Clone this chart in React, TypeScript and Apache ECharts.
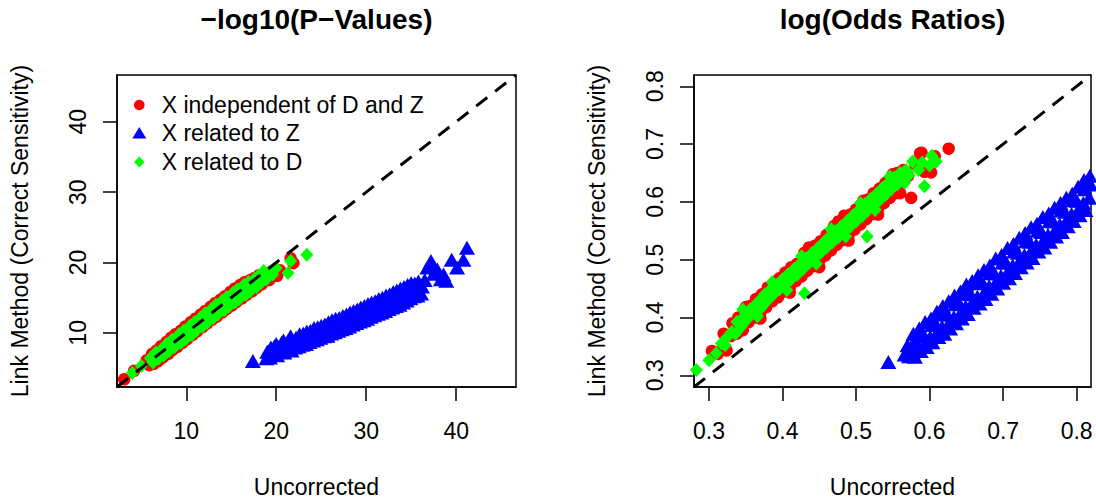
import React, { useEffect, useRef } from "react";
import * as echarts from "echarts";

// ---------- data ----------
const legendLabels = ["X independent of D and Z", "X related to Z", "X related to D"];
const panelTitles = ["\u2212log10(P\u2212Values)", "log(Odds Ratios)"];
const xAxisTitle = "Uncorrected";
const yAxisTitle = "Link Method (Correct Sensitivity)";

const leftTicks = [10, 20, 30, 40];
const rightTicks = [0.3, 0.4, 0.5, 0.6, 0.7, 0.8];
const leftRange = [2.3, 46.65];
const rightRange = [0.2797, 0.8195];

// -log10(P) panel
const redLeft = [
  [3.1, 3.4], [4.2, 4.6], [5.6, 6.1], [5.9, 5.4], [6.2, 7.0], [6.4, 5.6], [6.7, 7.5], [6.9, 6.0], [7.2, 8.1], [7.4, 6.5],
  [7.6, 7.8], [7.8, 8.7], [8.0, 7.0], [8.3, 9.3], [8.5, 7.6], [8.8, 9.8], [9.0, 8.0], [9.2, 9.1], [9.4, 10.3], [9.6, 8.6],
  [9.9, 10.9], [10.1, 9.1], [10.3, 10.2], [10.5, 11.5], [10.7, 9.7], [11.0, 12.0], [11.2, 10.2], [11.4, 11.3], [11.6, 12.6], [11.8, 10.8],
  [12.1, 13.1], [12.3, 11.3], [12.5, 12.4], [12.7, 13.7], [12.9, 11.9], [13.2, 14.2], [13.4, 12.3], [13.6, 13.5], [13.8, 14.7], [14.0, 12.9],
  [14.3, 15.2], [14.5, 13.4], [14.7, 14.5], [14.9, 15.8], [15.1, 13.9], [15.4, 16.3], [15.6, 14.4], [15.8, 15.5], [16.0, 16.8], [16.2, 14.9],
  [16.5, 17.2], [16.7, 15.4], [16.9, 16.2], [17.1, 17.5], [17.3, 15.9], [17.6, 17.8], [17.8, 16.4], [18.1, 18.2], [18.4, 16.9], [18.8, 18.4],
  [19.2, 17.5], [19.6, 18.0], [20.1, 18.1], [20.4, 18.9], [21.6, 20.6], [21.9, 19.9],
];
const blueLeft = [
  [17.4, 6.0], [18.9, 6.4], [19.0, 7.3], [19.3, 6.5], [19.4, 7.9], [19.7, 7.0], [19.8, 8.1], [20.1, 6.8], [20.2, 7.9], [20.0, 8.4],
  [20.5, 7.3], [20.6, 8.6], [20.9, 7.2], [21.0, 8.4], [20.8, 8.9], [21.3, 7.6], [21.4, 9.0], [21.7, 7.5], [21.6, 9.5], [21.8, 8.5],
  [22.1, 7.9], [22.2, 9.3], [22.5, 8.1], [22.6, 9.8], [22.4, 9.0], [22.9, 8.3], [23.0, 9.9], [23.3, 8.4], [23.4, 10.2], [23.2, 9.4],
  [23.7, 8.7], [23.8, 10.3], [24.1, 8.9], [24.2, 10.7], [24.0, 9.8], [24.5, 9.1], [24.6, 10.8], [24.9, 9.3], [25.0, 11.0], [24.8, 10.1],
  [25.3, 9.5], [25.4, 11.2], [25.7, 9.6], [25.8, 11.5], [25.6, 10.5], [26.1, 9.9], [26.2, 11.8], [26.5, 10.1], [26.6, 12.0], [26.4, 11.0],
  [26.9, 10.3], [27.0, 12.1], [27.3, 10.5], [27.4, 12.4], [27.2, 11.4], [27.7, 10.7], [27.8, 12.6], [28.1, 10.9], [28.2, 12.9], [28.0, 12.0],
  [28.5, 11.2], [28.6, 13.1], [28.9, 11.4], [29.0, 13.3], [28.8, 12.3], [29.3, 11.6], [29.4, 13.6], [29.7, 11.8], [29.8, 13.8], [29.6, 12.9],
  [30.1, 12.0], [30.2, 14.1], [30.5, 12.3], [30.6, 14.3], [30.4, 13.3], [30.9, 12.5], [31.0, 14.5], [31.3, 12.7], [31.4, 14.8], [31.2, 13.8],
  [31.7, 12.9], [31.8, 15.0], [32.1, 13.1], [32.2, 15.3], [32.0, 14.2], [32.5, 13.4], [32.6, 15.5], [32.9, 13.6], [33.0, 15.8], [32.8, 14.7],
  [33.3, 13.8], [33.4, 16.0], [33.7, 14.0], [33.8, 16.3], [33.6, 15.1], [34.1, 14.3], [34.2, 16.5], [34.5, 14.6], [34.6, 16.8], [34.4, 15.6],
  [34.9, 14.9], [35.0, 17.1], [35.3, 15.2], [35.4, 17.0], [35.2, 16.1], [35.7, 15.3], [35.8, 17.3], [36.1, 15.6], [36.2, 16.6], [36.5, 17.5],
  [36.8, 19.3], [37.2, 20.2], [37.5, 18.4], [37.3, 19.5], [37.9, 19.0], [38.3, 17.6], [38.9, 17.4], [38.6, 18.3], [39.5, 20.4], [40.1, 19.3],
  [40.8, 20.4], [41.2, 22.1],
];
const greenLeft = [
  [4.0, 4.3], [5.0, 5.3], [6.0, 6.4], [6.3, 5.8], [6.6, 7.2], [6.9, 6.3], [7.2, 7.6], [7.5, 6.8], [7.8, 8.4], [8.1, 7.4],
  [8.4, 9.0], [8.7, 8.0], [8.9, 8.7], [9.2, 9.8], [9.4, 8.6], [9.7, 10.3], [9.9, 9.1], [10.1, 10.0], [10.4, 11.0], [10.6, 9.7],
  [10.9, 11.5], [11.1, 10.3], [11.3, 11.2], [11.6, 12.2], [11.8, 10.9], [12.1, 12.8], [12.3, 11.4], [12.5, 12.3], [12.8, 13.4], [13.0, 12.1],
  [13.3, 14.0], [13.5, 12.6], [13.7, 13.5], [14.0, 14.6], [14.2, 13.2], [14.5, 15.1], [14.7, 13.7], [14.9, 14.6], [15.2, 15.7], [15.4, 14.3],
  [15.7, 16.2], [15.9, 14.8], [16.1, 15.7], [16.4, 16.8], [16.6, 15.4], [16.9, 17.2], [17.1, 15.9], [17.3, 16.7], [17.6, 17.7], [17.8, 16.5],
  [18.1, 18.2], [18.3, 17.1], [18.6, 18.8], [18.9, 17.6], [19.2, 18.6], [19.6, 18.3], [20.0, 19.2], [21.3, 18.5], [21.6, 20.2], [23.4, 21.1],
];

// log(OR) panel
const redRight = [
  [0.304, 0.342], [0.312, 0.337], [0.318, 0.345], [0.320, 0.372], [0.324, 0.343], [0.330, 0.368], [0.332, 0.390], [0.338, 0.372], [0.340, 0.400], [0.346, 0.378],
  [0.348, 0.410], [0.350, 0.418], [0.354, 0.392], [0.356, 0.420], [0.362, 0.400], [0.364, 0.432], [0.370, 0.409], [0.370, 0.398], [0.372, 0.440], [0.378, 0.418],
  [0.380, 0.452], [0.386, 0.428], [0.388, 0.458], [0.390, 0.462], [0.394, 0.435], [0.396, 0.468], [0.402, 0.445], [0.404, 0.478], [0.410, 0.452], [0.410, 0.443],
  [0.412, 0.487], [0.418, 0.463], [0.420, 0.493], [0.426, 0.471], [0.428, 0.505], [0.430, 0.512], [0.434, 0.481], [0.436, 0.521], [0.442, 0.489], [0.444, 0.524],
  [0.450, 0.498], [0.450, 0.487], [0.452, 0.532], [0.458, 0.507], [0.460, 0.543], [0.466, 0.516], [0.468, 0.550], [0.470, 0.558], [0.474, 0.526], [0.476, 0.566],
  [0.482, 0.534], [0.484, 0.576], [0.490, 0.543], [0.490, 0.533], [0.492, 0.578], [0.498, 0.552], [0.500, 0.587], [0.506, 0.561], [0.508, 0.597], [0.510, 0.602],
  [0.514, 0.570], [0.516, 0.604], [0.522, 0.579], [0.524, 0.615], [0.530, 0.588], [0.530, 0.578], [0.532, 0.623], [0.538, 0.598], [0.540, 0.633], [0.546, 0.607],
  [0.548, 0.640], [0.550, 0.648], [0.554, 0.615], [0.556, 0.650], [0.560, 0.615], [0.562, 0.632], [0.564, 0.655], [0.571, 0.645], [0.575, 0.607], [0.581, 0.664],
  [0.587, 0.684], [0.589, 0.685], [0.593, 0.652], [0.602, 0.651], [0.607, 0.679], [0.626, 0.692],
];
const blueRight = [
  [0.544, 0.323], [0.566, 0.336], [0.570, 0.352], [0.572, 0.333], [0.571, 0.343],
  [0.578, 0.372], [0.580, 0.332], [0.579, 0.359], [0.577, 0.340], [0.586, 0.381], [0.588, 0.342], [0.587, 0.368], [0.585, 0.350],
  [0.594, 0.392], [0.596, 0.349], [0.592, 0.370], [0.595, 0.357], [0.602, 0.398], [0.604, 0.357], [0.603, 0.387], [0.601, 0.366],
  [0.610, 0.410], [0.612, 0.366], [0.608, 0.390], [0.611, 0.376], [0.618, 0.420], [0.620, 0.372], [0.619, 0.405], [0.617, 0.384],
  [0.626, 0.428], [0.628, 0.381], [0.624, 0.405], [0.627, 0.392], [0.634, 0.438], [0.636, 0.390], [0.635, 0.423], [0.633, 0.401],
  [0.642, 0.445], [0.644, 0.398], [0.640, 0.425], [0.643, 0.410], [0.650, 0.457], [0.652, 0.406], [0.651, 0.441], [0.649, 0.419],
  [0.658, 0.463], [0.660, 0.417], [0.656, 0.440], [0.659, 0.428], [0.666, 0.473], [0.668, 0.424], [0.667, 0.459], [0.665, 0.436],
  [0.674, 0.482], [0.676, 0.432], [0.672, 0.460], [0.675, 0.445], [0.682, 0.490], [0.684, 0.441], [0.683, 0.477], [0.681, 0.454],
  [0.690, 0.502], [0.692, 0.450], [0.688, 0.476], [0.691, 0.463], [0.698, 0.508], [0.700, 0.460], [0.699, 0.495], [0.697, 0.472],
  [0.706, 0.520], [0.708, 0.468], [0.704, 0.495], [0.707, 0.481], [0.714, 0.527], [0.716, 0.477], [0.715, 0.514], [0.713, 0.490],
  [0.722, 0.538], [0.724, 0.487], [0.720, 0.512], [0.723, 0.499], [0.730, 0.546], [0.732, 0.495], [0.731, 0.532], [0.729, 0.508],
  [0.738, 0.556], [0.740, 0.503], [0.736, 0.531], [0.739, 0.517], [0.746, 0.562], [0.748, 0.514], [0.747, 0.550], [0.745, 0.526],
  [0.754, 0.574], [0.756, 0.521], [0.752, 0.548], [0.755, 0.534], [0.762, 0.580], [0.764, 0.531], [0.763, 0.567], [0.761, 0.543],
  [0.770, 0.590], [0.772, 0.540], [0.768, 0.566], [0.771, 0.552], [0.778, 0.598], [0.780, 0.548], [0.779, 0.585], [0.777, 0.561],
  [0.786, 0.607], [0.788, 0.558], [0.784, 0.583], [0.787, 0.570], [0.794, 0.614], [0.796, 0.567], [0.795, 0.603], [0.793, 0.579],
  [0.802, 0.626], [0.804, 0.577], [0.800, 0.602], [0.803, 0.588], [0.810, 0.638], [0.812, 0.586], [0.811, 0.622], [0.809, 0.598],
  [0.818, 0.645], [0.820, 0.596], [0.819, 0.630], [0.817, 0.607],
];
const greenRight = [
  [0.283, 0.309], [0.300, 0.326], [0.310, 0.338], [0.317, 0.355], [0.322, 0.352], [0.325, 0.366], [0.331, 0.375], [0.336, 0.372], [0.338, 0.392], [0.344, 0.384],
  [0.346, 0.414], [0.348, 0.402], [0.352, 0.397], [0.356, 0.414], [0.362, 0.408], [0.364, 0.423], [0.366, 0.402], [0.368, 0.428], [0.372, 0.418], [0.376, 0.440],
  [0.380, 0.430], [0.384, 0.449], [0.386, 0.461], [0.388, 0.440], [0.392, 0.456], [0.396, 0.449], [0.400, 0.466], [0.404, 0.457], [0.406, 0.447], [0.408, 0.475],
  [0.412, 0.466], [0.416, 0.484], [0.420, 0.474], [0.424, 0.493], [0.426, 0.506], [0.428, 0.484], [0.430, 0.442], [0.432, 0.502], [0.436, 0.494], [0.440, 0.511],
  [0.444, 0.503], [0.446, 0.493], [0.448, 0.520], [0.452, 0.512], [0.456, 0.530], [0.460, 0.521], [0.464, 0.540], [0.466, 0.553], [0.468, 0.530], [0.472, 0.549],
  [0.476, 0.539], [0.480, 0.558], [0.484, 0.549], [0.486, 0.540], [0.488, 0.567], [0.492, 0.557], [0.496, 0.577], [0.500, 0.566], [0.504, 0.586], [0.506, 0.598],
  [0.508, 0.575], [0.512, 0.596], [0.515, 0.540], [0.516, 0.585], [0.520, 0.605], [0.524, 0.594], [0.526, 0.586], [0.528, 0.614], [0.532, 0.603], [0.536, 0.624],
  [0.540, 0.612], [0.544, 0.633], [0.546, 0.644], [0.548, 0.622], [0.552, 0.642], [0.556, 0.630], [0.560, 0.650], [0.564, 0.640], [0.566, 0.633], [0.568, 0.655],
  [0.572, 0.646], [0.577, 0.670], [0.585, 0.655], [0.593, 0.627], [0.600, 0.663], [0.609, 0.670], [0.603, 0.680], [0.590, 0.668],
];

// ---------- styling ----------
const FONT = "'Liberation Sans', Arial, Helvetica, sans-serif";
const RED = "#ff0000";
const BLUE = "#0000ff";
const GREEN = "#00ff00";
const FS = 23;

const grids = [
  { left: 117, top: 75, width: 399, height: 312 },
  { left: 694, top: 75, width: 397, height: 312 },
];

function makeX(idx: number, range: number[], ticks: number[]) {
  return {
    gridIndex: idx,
    type: "value",
    min: range[0],
    max: range[1],
    axisLine: { show: true, onZero: false, lineStyle: { color: "#000", width: 1.5 } },
    axisTick: { show: true, length: 14, customValues: ticks, lineStyle: { color: "#000", width: 1.5 } },
    axisLabel: { customValues: ticks, margin: 32, fontSize: FS, color: "#000", fontFamily: FONT },
    splitLine: { show: false },
    name: xAxisTitle,
    nameLocation: "middle",
    nameGap: 88,
    nameTextStyle: { fontSize: FS, color: "#000", fontFamily: FONT },
  };
}
function makeY(idx: number, range: number[], ticks: number[]) {
  return {
    gridIndex: idx,
    type: "value",
    min: range[0],
    max: range[1],
    axisLine: { show: true, onZero: false, lineStyle: { color: "#000", width: 1.5 } },
    axisTick: { show: true, length: 14, customValues: ticks, lineStyle: { color: "#000", width: 1.5 } },
    axisLabel: { customValues: ticks, margin: 28, rotate: 90, fontSize: FS, color: "#000", fontFamily: FONT },
    splitLine: { show: false },
    name: yAxisTitle,
    nameLocation: "middle",
    nameGap: 86,
    nameRotate: 90,
    nameTextStyle: { fontSize: FS, color: "#000", fontFamily: FONT },
  };
}

function scatter(idx: number, name: string, data: number[][], color: string, symbol: string, size: any, z: number) {
  return {
    type: "scatter",
    name,
    xAxisIndex: idx,
    yAxisIndex: idx,
    data,
    symbol,
    symbolSize: size,
    itemStyle: { color, opacity: 1 },
    z,
    clip: true,
    silent: true,
  };
}

function diag(idx: number, range: number[]) {
  return {
    type: "line",
    xAxisIndex: idx,
    yAxisIndex: idx,
    data: [[range[0], range[0]], [range[1], range[1]]],
    symbol: "none",
    lineStyle: { color: "#000", width: 3, type: [14, 10] },
    z: 10,
    clip: true,
    silent: true,
  };
}

export default function App() {
  const ref = useRef<HTMLDivElement>(null);
  useEffect(() => {
    if (!ref.current) return;
    const chart = echarts.init(ref.current, null, { renderer: "svg" });
    const legendX = 139.3;
    const legendTextX = 161.7;
    const rows = [105, 133, 162];
    chart.setOption({
      animation: false,
      backgroundColor: "#fff",
      grid: grids.map((g) => ({ ...g, show: true, borderColor: "#000", borderWidth: 1.5, backgroundColor: "transparent" })),
      xAxis: [makeX(0, leftRange, leftTicks), makeX(1, rightRange, rightTicks)],
      yAxis: [makeY(0, leftRange, leftTicks), makeY(1, rightRange, rightTicks)],
      series: [
        scatter(0, legendLabels[0], redLeft, RED, "circle", 12.5, 2),
        scatter(0, legendLabels[1], blueLeft, BLUE, "triangle", [16, 14], 3),
        scatter(0, legendLabels[2], greenLeft, GREEN, "diamond", [13, 14], 4),
        diag(0, leftRange),
        scatter(1, legendLabels[0], redRight, RED, "circle", 12.5, 2),
        scatter(1, legendLabels[1], blueRight, BLUE, "triangle", [16, 14], 3),
        scatter(1, legendLabels[2], greenRight, GREEN, "diamond", [13, 14], 4),
        diag(1, rightRange),
      ],
      graphic: [
        {
          type: "text",
          x: 316.5,
          y: 19,
          style: { text: panelTitles[0], fontSize: 28, fontWeight: "bold", fontFamily: FONT, fill: "#000", textAlign: "center", textVerticalAlign: "middle" },
        },
        {
          type: "text",
          x: 892.5,
          y: 19,
          style: { text: panelTitles[1], fontSize: 28, fontWeight: "bold", fontFamily: FONT, fill: "#000", textAlign: "center", textVerticalAlign: "middle" },
        },
        { type: "circle", shape: { cx: legendX, cy: rows[0], r: 5.3 }, style: { fill: RED }, z: 20 },
        {
          type: "polygon",
          shape: { points: [[legendX - 7, rows[1] + 5.5], [legendX + 7, rows[1] + 5.5], [legendX, rows[1] - 6]] },
          style: { fill: BLUE },
          z: 20,
        },
        {
          type: "polygon",
          shape: { points: [[legendX, rows[2] - 5.5], [legendX + 5.2, rows[2]], [legendX, rows[2] + 5.5], [legendX - 5.2, rows[2]]] },
          style: { fill: GREEN },
          z: 20,
        },
        ...legendLabels.map((t, i) => ({
          type: "text",
          x: legendTextX,
          y: rows[i],
          z: 20,
          style: { text: t, fontSize: FS, fontFamily: FONT, fill: "#000", textAlign: "left", textVerticalAlign: "middle" },
        })),
      ],
    });
    return () => chart.dispose();
  }, []);
  return <div ref={ref} style={{ position: "absolute", left: 0, top: 0, width: 1096, height: 504 }} />;
}
